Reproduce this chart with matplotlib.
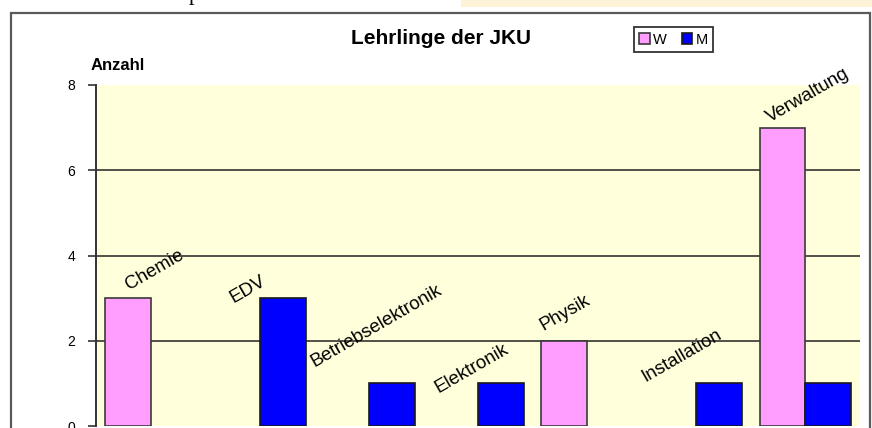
import numpy as np
import matplotlib
matplotlib.use("Agg")
import matplotlib.pyplot as plt
from matplotlib.patches import Rectangle, Patch

plt.rcParams['font.family'] = ['Liberation Sans', 'DejaVu Sans']

# data
categories = ['Chemie', 'EDV', 'Betriebselektronik', 'Elektronik', 'Physik', 'Installation', 'Verwaltung']
w_values = [3, 0, 0, 0, 2, 0, 7]
m_values = [0, 3, 1, 1, 0, 1, 1]
y_ticks = [0, 2, 4, 6, 8]

# label offsets (pixels) from category centre / top of highest bar
label_offsets = [(4, 28), (-12, 9), (8, 57), (-6, 15), (-22, 28), (-15, 28), (2, 32)]

W, H = 872, 428
fig = plt.figure(figsize=(W / 100, H / 100), dpi=100)
fig.patch.set_facecolor('white')

# page bits around the chart
fig.patches.append(Rectangle((461 / W, 1 - 7 / H), (W - 461) / W, 7 / H,
                             transform=fig.transFigure, facecolor='#FDF1D6', edgecolor='none'))
fig.text(189 / W, 1.0, 'p', family='Liberation Serif', fontsize=16, va='baseline', ha='left')
fig.patches.append(Rectangle((11 / W, -0.05), (870 - 11) / W, 1.05 - 13 / H,
                             transform=fig.transFigure, facecolor='none',
                             edgecolor='#5a5a5a', linewidth=1.6))

ax = fig.add_axes([96 / W, (H - 426) / H, (860 - 96) / W, (426 - 85) / H])
ax.set_facecolor('#FFFFDC')

pink, blue = '#FF9EFF', '#0000FF'
x = np.arange(len(categories))
bw = 0.42
w_lw = [1.2 if v > 0 else 0 for v in w_values]
m_lw = [1.2 if v > 0 else 0 for v in m_values]
ax.bar(x - bw / 2, w_values, bw, color=pink, edgecolor='#3a3a3a', linewidth=w_lw, zorder=3)
ax.bar(x + bw / 2, m_values, bw, color=blue, edgecolor='#1a1a1a', linewidth=m_lw, zorder=3)

ax.set_xlim(-0.5, len(categories) - 0.5)
ax.set_ylim(0, 8)
ax.set_yticks(y_ticks)
ax.set_yticklabels([str(t) for t in y_ticks], fontsize=10)
ax.tick_params(axis='y', length=6, width=1.2, color='#333333', pad=9)
ax.set_xticks([])
for t in [2, 4, 6]:
    ax.axhline(t, color='#222222', linewidth=1.1, zorder=1)

for s in ['top', 'right', 'bottom']:
    ax.spines[s].set_visible(False)
ax.spines['left'].set_color('#333333')
ax.spines['left'].set_linewidth(1.4)

# category labels above each group
for i, name in enumerate(categories):
    top = max(w_values[i], m_values[i])
    dx, dy = label_offsets[i]
    ax.annotate(name, xy=(x[i], top), xytext=(dx, dy), textcoords='offset pixels',
                rotation=30, rotation_mode='anchor', ha='center', va='center',
                fontsize=13.5, zorder=4)

fig.text(441 / W, 1 - 38.5 / H, 'Lehrlinge der JKU', ha='center', va='center',
         fontsize=15, fontweight='bold')
fig.text(91 / W, 1 - 65 / H, 'Anzahl', ha='left', va='center', fontsize=12, fontweight='bold')

handles = [Patch(facecolor=pink, edgecolor='#3a3a3a', linewidth=1.2),
           Patch(facecolor=blue, edgecolor='#1a1a1a', linewidth=1.2)]
leg = fig.legend(handles, ['W', 'M'], loc='center', bbox_to_anchor=(673.5 / W, 1 - 39.5 / H), ncol=2,
                 fontsize=10.5, handlelength=0.7, handleheight=0.7, handletextpad=0.25,
                 columnspacing=1.0, borderpad=0.4, fancybox=False, framealpha=1,
                 edgecolor='#333333')
leg.get_frame().set_linewidth(1.3)

fig.savefig('out.png', dpi=100)
